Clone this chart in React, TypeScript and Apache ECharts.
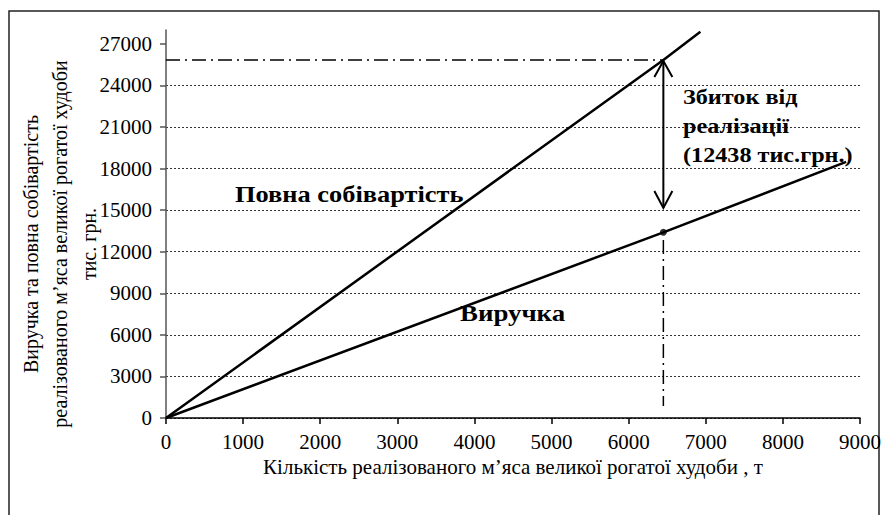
import React, { useEffect, useRef } from 'react';
import * as echarts from 'echarts';

// ---- data ----
const xTicks = [0, 1000, 2000, 3000, 4000, 5000, 6000, 7000, 8000, 9000];
const yTicks = [0, 3000, 6000, 9000, 12000, 15000, 18000, 21000, 24000, 27000];

// Повна собівартість (total cost), тис. грн.
const costQty = [0, 6450, 6930];
const costVal = [0, 25840, 27880];

// Виручка (revenue), тис. грн.
const revenueQty = [0, 6450, 8820];
const revenueVal = [0, 13400, 18480];

// current sales point and loss
const currentQty = 6450;
const currentCost = 25840;
const currentRevenue = 13400;
const lossValue = 12438;
const arrowBottomVal = 15160;
const guideTopVal = 12850;
const guideBottomVal = 870;

const xTitle = 'Кількість реалізованого м’яса великої рогатої худоби , т';
const yTitleLines = ['Виручка та повна собівартість', 'реалізованого м’яса великої рогатої худоби', 'тис. грн.'];
const costLabel = 'Повна собівартість';
const revenueLabel = 'Виручка';
const lossLabelLines = ['Збиток від', 'реалізації', `(${lossValue} тис.грн.)`];

const FONT = 'Liberation Serif';

export default function App() {
  const ref = useRef<HTMLDivElement>(null);
  useEffect(() => {
    document.body.style.margin = '0';
    const chart = echarts.init(ref.current!, null, { renderer: 'svg' });
    const dashDot = { color: '#000', width: 1.5, type: [14, 5, 2, 5] as any };
    chart.setOption({
      animation: false,
      backgroundColor: '#fff',
      textStyle: { fontFamily: FONT },
      grid: { left: 166, right: 23, top: 30, bottom: 97, containLabel: false },
      xAxis: {
        type: 'value',
        min: 0,
        max: 9000,
        interval: 1000,
        name: xTitle,
        nameLocation: 'middle',
        nameGap: 37,
        nameTextStyle: { fontFamily: FONT, fontSize: 21, color: '#000' },
        axisLine: { lineStyle: { color: '#000', width: 1.5 } },
        axisTick: { show: true, inside: false, length: 6, customValues: xTicks, lineStyle: { color: '#000', width: 1.5 } },
        axisLabel: {
          fontFamily: FONT, fontSize: 21, color: '#000', margin: 13,
          customValues: xTicks,
          formatter: (v: number) => String(v),
        },
        splitLine: { show: false },
      },
      yAxis: {
        type: 'value',
        min: 0,
        max: 28000,
        interval: 3000,
        axisLine: { show: true, lineStyle: { color: '#555', width: 1.5 } },
        axisTick: { show: true, inside: false, length: 6, customValues: yTicks, lineStyle: { color: '#555', width: 1.5 } },
        axisLabel: {
          fontFamily: FONT, fontSize: 21, color: '#000', margin: 14,
          customValues: yTicks,
          formatter: (v: number) => (yTicks.includes(v) ? String(v) : ''),
        },
        splitLine: { show: true, showMaxLine: false, lineStyle: { color: '#333', width: 1, type: [2, 2] } },
      },
      series: [
        {
          name: 'cost',
          type: 'line',
          data: costQty.map((q, i) => [q, costVal[i]]),
          showSymbol: false,
          symbol: 'none',
          lineStyle: { color: '#000', width: 2.5 },
          z: 5,
        },
        {
          name: 'revenue',
          type: 'line',
          data: revenueQty.map((q, i) => [q, revenueVal[i]]),
          showSymbol: false,
          symbol: 'none',
          lineStyle: { color: '#000', width: 2.5 },
          z: 5,
        },
        {
          name: 'hGuide',
          type: 'line',
          data: [[0, currentCost], [currentQty, currentCost]],
          symbol: 'none',
          lineStyle: dashDot,
          z: 4,
        },
        {
          name: 'vGuide',
          type: 'line',
          data: [[currentQty, guideTopVal], [currentQty, guideBottomVal]],
          symbol: 'none',
          lineStyle: dashDot,
          z: 4,
        },
        {
          name: 'point',
          type: 'scatter',
          data: [[currentQty, currentRevenue]],
          symbol: 'circle',
          symbolSize: 7,
          itemStyle: { color: '#000' },
          z: 6,
        },
        {
          name: 'lossArrow',
          type: 'custom',
          data: [[currentQty, currentCost, arrowBottomVal]],
          encode: { x: 0, y: 1 },
          z: 6,
          renderItem: (params: any, api: any) => {
            const top = api.coord([api.value(0), api.value(1)]);
            const bot = api.coord([api.value(0), api.value(2)]);
            const w = 9;
            const h = 17;
            const style = { stroke: '#000', lineWidth: 2, fill: null };
            return {
              type: 'group',
              children: [
                { type: 'line', shape: { x1: top[0], y1: top[1] + 1, x2: bot[0], y2: bot[1] }, style },
                { type: 'polyline', shape: { points: [[top[0] - w, top[1] + h], [top[0], top[1] + 1], [top[0] + w, top[1] + h]] }, style },
                { type: 'polyline', shape: { points: [[bot[0] - w, bot[1] - h], [bot[0], bot[1]], [bot[0] + w, bot[1] - h]] }, style },
              ],
            };
          },
        },
      ],
      graphic: [
        {
          type: 'rect',
          shape: { x: 9, y: 11, width: 870, height: 520 },
          style: { fill: null, stroke: '#222', lineWidth: 1.5 },
          silent: true,
          z: 0,
        },
        {
          type: 'text',
          x: 60,
          y: 244,
          rotation: Math.PI / 2,
          style: {
            text: yTitleLines.join('\n'),
            fontFamily: FONT,
            fontSize: 20,
            fill: '#000',
            align: 'center',
            verticalAlign: 'middle',
            lineHeight: 29,
          },
          z: 10,
        },
        {
          type: 'text',
          x: 235,
          y: 194,
          scaleX: 1.1,
          style: { text: costLabel, fontFamily: FONT, fontSize: 24, fontWeight: 'bold', fill: '#000', align: 'left', verticalAlign: 'middle' },
          z: 10,
        },
        {
          type: 'text',
          x: 460,
          y: 313,
          scaleX: 1.12,
          style: { text: revenueLabel, fontFamily: FONT, fontSize: 24, fontWeight: 'bold', fill: '#000', align: 'left', verticalAlign: 'middle' },
          z: 10,
        },
        {
          type: 'text',
          x: 683,
          y: 125,
          scaleX: 1.1,
          style: {
            text: lossLabelLines.join('\n'),
            fontFamily: FONT,
            fontSize: 22,
            fontWeight: 'bold',
            fill: '#000',
            align: 'left',
            verticalAlign: 'middle',
            lineHeight: 29,
          },
          z: 10,
        },
      ],
    });
    return () => chart.dispose();
  }, []);
  return <div ref={ref} style={{ width: 884, height: 515 }} />;
}
